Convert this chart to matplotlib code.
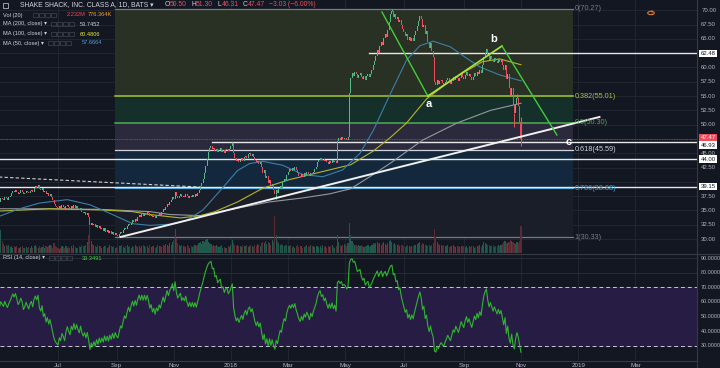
import numpy as np
import pandas as pd
import matplotlib
matplotlib.use('Agg')
import matplotlib.pyplot as plt
from matplotlib.patches import Rectangle, Circle

plt.rcParams['font.family'] = ['Liberation Sans', 'DejaVu Sans']

# ---------------- data (daily closes) ----------------
c_2017_05 = [35.8, 36.5, 37.2, 37.0, 36.8, 37.4, 37.1, 36.9, 37.3, 37.6, 38.0, 38.4, 38.2, 38.6, 38.3, 37.9, 38.1, 38.5, 38.3, 37.8, 38.0, 38.4, 38.2]
c_2017_06 = [38.0, 38.4, 38.6, 38.3, 38.9, 39.2, 39.0, 39.4, 38.7, 38.5, 38.9, 38.2, 38.4, 37.8, 38.1, 37.6, 37.9, 37.4, 36.8, 36.2, 35.8, 35.6]
c_2017_07 = [35.4, 35.8, 35.5, 35.9, 35.6, 35.2, 35.7, 36.0, 35.6, 35.3, 35.8, 35.5, 35.9, 35.4, 35.7, 35.3, 35.0, 35.4, 34.8, 34.5, 34.7]
c_2017_08 = [34.2, 34.5, 33.8, 32.5, 32.9, 32.4, 32.7, 32.1, 32.5, 31.9, 32.3, 31.7, 32.0, 31.5, 31.9, 31.3, 31.6, 31.0, 31.4, 30.9, 31.3, 30.7, 31.1]
c_2017_09 = [30.7, 30.5, 30.9, 31.3, 31.1, 31.6, 32.0, 31.8, 32.3, 32.7, 32.4, 32.9, 33.3, 33.0, 33.5, 33.2, 33.8, 34.2, 33.9, 34.4, 34.1]
c_2017_10 = [34.6, 34.3, 34.8, 34.5, 34.0, 34.3, 33.8, 34.1, 33.7, 34.2, 34.0, 34.5, 34.3, 34.8, 35.3, 35.0, 35.6, 36.2, 35.9, 36.5, 36.8, 37.4]
c_2017_11 = [37.0, 38.3, 37.6, 37.2, 37.5, 37.8, 37.3, 37.6, 37.4, 37.9, 37.5, 37.2, 37.6, 37.3, 37.7, 37.4, 37.8, 37.5, 38.0, 38.6, 39.2, 39.8]
c_2017_12 = [40.5, 41.6, 42.8, 44.0, 45.2, 45.9, 46.3, 45.8, 46.0, 45.4, 45.7, 45.2, 45.6, 45.9, 45.3, 45.5, 45.1, 45.6, 45.8, 45.4, 45.7]
c_2018_01 = [46.2, 46.8, 45.0, 44.2, 43.6, 43.9, 43.4, 43.8, 44.1, 43.7, 44.3, 44.6, 44.2, 44.8, 45.0, 44.6, 44.9, 44.4, 43.8, 43.4, 43.7, 43.2, 43.5]
c_2018_02 = [42.6, 41.6, 42.0, 40.6, 41.0, 39.8, 40.4, 39.2, 39.7, 38.6, 37.8, 38.6, 38.0, 38.7, 39.3, 39.0, 39.9, 40.5, 40.2, 41.2]
c_2018_03 = [41.8, 42.2, 41.9, 42.4, 42.1, 42.6, 42.0, 41.6, 41.1, 40.8, 41.3, 40.9, 41.5, 41.2, 41.7, 41.4, 41.0, 41.6, 41.3, 41.8, 42.2, 42.6]
c_2018_04 = [43.4, 43.9, 44.2, 43.8, 44.0, 43.6, 43.9, 43.5, 43.2, 43.6, 43.3, 43.8, 43.4, 43.7, 43.3, 47.2, 47.6, 47.4, 47.8, 47.5, 47.7]
c_2018_05 = [47.6, 47.4, 47.8, 55.5, 58.2, 59.0, 58.6, 59.3, 58.8, 58.2, 58.7, 59.1, 58.4, 58.0, 58.6, 57.9, 58.5, 58.9, 58.3, 58.8, 59.5, 60.4, 61.2]
c_2018_06 = [62.0, 63.1, 62.6, 63.8, 64.5, 64.0, 65.2, 65.8, 65.4, 66.5, 68.0, 69.4, 69.8, 68.9, 69.3, 68.5, 68.8, 67.9, 68.3, 67.4, 66.8]
c_2018_07 = [66.2, 65.5, 65.9, 64.8, 65.3, 64.6, 65.2, 64.7, 65.6, 66.4, 67.3, 68.2, 69.0, 68.4, 67.0, 67.5, 65.8, 66.3, 64.5, 63.4, 64.2, 62.8]
c_2018_08 = [61.9, 57.5, 57.0, 57.8, 57.1, 57.6, 57.9, 57.3, 56.9, 57.4, 57.8, 58.2, 57.6, 57.1, 57.7, 58.3, 57.9, 58.6, 58.1, 57.6, 58.2, 58.8, 58.4]
c_2018_09 = [58.0, 58.7, 59.2, 58.5, 58.9, 58.3, 57.8, 58.4, 59.0, 58.6, 59.3, 58.8, 59.5, 59.1, 60.4, 61.8, 62.6, 63.2, 62.1, 61.3]
c_2018_10 = [62.0, 61.5, 61.0, 61.6, 61.2, 60.8, 61.4, 60.9, 61.3, 60.5, 59.6, 60.4, 58.0, 58.9, 56.4, 55.2, 56.4, 53.4, 52.0, 53.6, 54.6, 53.2, 50.5]
c_2018_11 = [47.47]
last_ohlc = (50.50, 51.30, 46.31, 47.47)

# notable wick extremes: bar index -> price
wick_highs = {176: 47.0, 296: 70.27, 390: 55.3}
wick_lows = {91: 30.33, 209: 37.0, 388: 49.6}

# volume, in units of 100k shares
v_2017_05 = [30, 55, 38, 20, 15, 12, 14, 11, 13, 10, 12, 9, 11, 10, 12, 9, 8, 10, 11, 9, 8, 10, 9]
v_2017_06 = [10, 8, 12, 9, 11, 14, 10, 9, 12, 8, 10, 13, 9, 11, 10, 12, 14, 11, 9, 16, 12, 10]
v_2017_07 = [8, 6, 9, 11, 10, 8, 12, 9, 10, 8, 11, 9, 13, 10, 8, 9, 12, 10, 14, 11, 12]
v_2017_08 = [13, 18, 30, 45, 20, 15, 14, 12, 10, 13, 11, 12, 9, 10, 12, 11, 9, 10, 13, 11, 10, 12, 9]
v_2017_09 = [10, 9, 12, 11, 14, 10, 9, 12, 13, 10, 11, 9, 12, 10, 14, 11, 10, 12, 9, 11, 13]
v_2017_10 = [11, 10, 12, 9, 13, 10, 11, 12, 9, 10, 14, 12, 11, 10, 13, 12, 15, 14, 12, 16, 13, 18]
v_2017_11 = [22, 40, 25, 16, 14, 12, 13, 11, 12, 10, 13, 11, 9, 12, 10, 11, 13, 12, 14, 16, 18, 15]
v_2017_12 = [20, 18, 22, 24, 19, 17, 15, 12, 13, 11, 14, 12, 10, 11, 13, 9, 10, 8, 9, 11, 10]
v_2018_01 = [14, 22, 16, 13, 12, 14, 11, 12, 10, 13, 11, 12, 14, 10, 11, 13, 12, 10, 14, 12, 15, 13, 12]
v_2018_02 = [16, 18, 17, 20, 15, 18, 16, 14, 22, 18, 62, 30, 20, 16, 14, 15, 13, 12, 14, 13]
v_2018_03 = [12, 11, 13, 10, 12, 9, 11, 13, 10, 12, 11, 9, 10, 12, 14, 11, 10, 13, 12, 11, 10, 12]
v_2018_04 = [11, 10, 12, 9, 13, 10, 11, 9, 12, 10, 11, 13, 10, 9, 12, 30, 18, 14, 12, 13, 15]
v_2018_05 = [14, 12, 16, 50, 30, 20, 16, 14, 13, 12, 14, 11, 13, 12, 10, 12, 11, 13, 10, 12, 14, 16, 15]
v_2018_06 = [16, 18, 15, 17, 14, 16, 18, 15, 14, 17, 20, 22, 18, 15, 16, 14, 13, 15, 12, 14, 13]
v_2018_07 = [12, 10, 11, 13, 12, 10, 11, 12, 14, 13, 15, 16, 18, 14, 16, 15, 13, 14, 12, 13, 11, 14]
v_2018_08 = [16, 40, 26, 18, 15, 14, 13, 12, 14, 11, 12, 13, 10, 12, 11, 13, 12, 10, 11, 12, 10, 11, 12]
v_2018_09 = [11, 10, 12, 9, 11, 10, 12, 11, 9, 10, 12, 11, 13, 10, 14, 18, 16, 15, 14, 13]
v_2018_10 = [12, 11, 13, 10, 12, 11, 14, 12, 13, 15, 18, 20, 17, 16, 18, 22, 20, 18, 16, 15, 19, 17, 20]
v_2018_11 = [45]

# moving averages: (bar index, value)
ma50_pts = [(1, 34.0), (16, 35.3), (31, 36.3), (52, 36.9), (69, 36.0), (84, 34.5), (101, 32.7), (114, 32.4),
            (129, 32.6), (141, 33.2), (154, 35.1), (167, 38.5), (180, 42.0), (189, 43.2), (199, 43.6),
            (214, 42.9), (229, 41.3), (244, 40.9), (259, 42.1), (272, 45.0), (282, 49.0), (295, 55.5),
            (307, 61.3), (317, 63.8), (327, 64.6), (340, 63.6), (351, 61.8), (362, 60.1), (377, 58.7), (393, 57.67)]
ma100_pts = [(1, 34.9), (39, 35.3), (77, 35.1), (101, 34.8), (114, 34.3), (137, 33.7), (152, 34.1), (163, 34.8),
             (180, 36.5), (199, 38.9), (219, 40.4), (242, 41.7), (265, 43.0), (282, 45.4), (295, 47.8),
             (307, 50.3), (322, 54.5), (336, 57.0), (349, 59.0), (364, 61.0), (377, 61.5), (393, 60.48)]
ma200_pts = [(1, 35.3), (39, 35.3), (77, 35.2), (114, 34.8), (129, 34.3), (152, 34.1), (180, 35.4), (204, 36.5),
             (229, 37.2), (249, 37.9), (265, 38.8), (280, 41.0), (295, 43.3), (319, 47.3), (345, 50.3),
             (370, 52.5), (393, 53.75)]

fib_levels = [0, 0.382, 0.5, 0.618, 0.786, 1]
fib_prices = [70.27, 55.01, 50.30, 45.59, 38.88, 30.33]
fib_span = (88, 432)
hlines = {'62.48': (62.48, 279), '46.93': (46.93, 161), '44.00': (44.00, 0), '39.15': (39.15, 0)}
trend_white = [(92, 30.37), (452, 51.35)]
trend_dash = [(0, 40.86), (152, 39.1)]
wave_pts = {'start': (288.5, 69.7), 'a': (323, 55.01), 'b': (378.7, 63.76), 'end': (420, 48.2)}

month_names = ['Jul', 'Sep', 'Nov', '2018', 'Mar', 'May', 'Jul', 'Sep', 'Nov', '2019', 'Mar']
month_dates = ['2017-07-01', '2017-09-01', '2017-11-01', '2018-01-01', '2018-03-01', '2018-05-01',
               '2018-07-01', '2018-09-01', '2018-11-01', '2019-01-01', '2019-03-01']

# ---------------- assemble ----------------
closes = np.array(sum([c_2017_05, c_2017_06, c_2017_07, c_2017_08, c_2017_09, c_2017_10, c_2017_11, c_2017_12,
                       c_2018_01, c_2018_02, c_2018_03, c_2018_04, c_2018_05, c_2018_06, c_2018_07, c_2018_08,
                       c_2018_09, c_2018_10, c_2018_11], []))
vols = np.array(sum([v_2017_05, v_2017_06, v_2017_07, v_2017_08, v_2017_09, v_2017_10, v_2017_11, v_2017_12,
                     v_2018_01, v_2018_02, v_2018_03, v_2018_04, v_2018_05, v_2018_06, v_2018_07, v_2018_08,
                     v_2018_09, v_2018_10, v_2018_11], []), dtype=float)
n = len(closes)
idx = np.arange(n)
opens = np.r_[closes[0], closes[:-1]]
opens[-1] = last_ohlc[0]

alldays = pd.bdate_range('2017-05-01', '2019-04-30')
tick_pos = [int(np.searchsorted(alldays, pd.Timestamp(d))) for d in month_dates]

# RSI 14 (Wilder)
ag, al = 0.28, 0.26
rsi = [100 - 100 / (1 + ag / al)]
for d in np.diff(closes):
    ag = (ag * 13 + max(d, 0)) / 14
    al = (al * 13 + max(-d, 0)) / 14
    rsi.append(100 - 100 / (1 + ag / al))
rsi = np.array(rsi)

# ---------------- figure ----------------
W, H = 720, 368
BG = '#131722'
GRID = '#242832'
TXT = '#b2b5be'
UP, DN = '#53b987', '#eb4d5c'
fig = plt.figure(figsize=(7.2, 3.68), dpi=100)
fig.patch.set_facecolor(BG)

PLOT_R = 697
ax = fig.add_axes([0, 1 - 253 / H, PLOT_R / W, 253 / H])
rax = fig.add_axes([0, 1 - 360 / H, PLOT_R / W, (360 - 254) / H])
for a in (ax, rax):
    a.set_facecolor(BG)
    for s in a.spines.values():
        s.set_visible(False)
    a.tick_params(left=False, right=False, labelleft=False, bottom=False, labelbottom=False)

x0, x1 = 1.41, 525.3
ax.set_xlim(x0, x1)
ax.set_ylim(27.57, 71.80)
rax.set_xlim(x0, x1)
rax.set_ylim(20.2, 92.8)

# grid
for p in np.arange(27.5, 72.6, 2.5):
    ax.axhline(p, color=GRID, lw=0.6, zorder=0)
for t in tick_pos:
    ax.axvline(t, color=GRID, lw=0.6, zorder=0)
    rax.axvline(t, color=GRID, lw=0.6, zorder=0)
for r in [40, 50, 60, 80, 90]:
    rax.axhline(r, color='#2a2e39', lw=0.6, zorder=0)

# fib zones
zone_cols = ['#293024', '#15302a', '#2a2a3c', '#13283c', '#1a1e29']
line_cols = ['#787b86', '#a5c832', '#4caf50', '#d1d4dc', '#3fa0d8', '#787b86']
fa, fb = fib_span
for k in range(5):
    ax.add_patch(Rectangle((fa, fib_prices[k + 1]), fb - fa, fib_prices[k] - fib_prices[k + 1],
                           facecolor=zone_cols[k], edgecolor='none', zorder=0.5))
for k, (lv, pr) in enumerate(zip(fib_levels, fib_prices)):
    ax.plot([fa, fb], [pr, pr], color=line_cols[k], lw=1.1 if k in (1, 2) else 0.9, zorder=1)
    lvs = ('%g' % lv)
    ax.text(fb + 1.2, pr, f'{lvs}({pr:.2f})', color=line_cols[k], fontsize=5.2, va='center', ha='left', zorder=6)

# volume
vcols = np.where(closes >= opens, '#1f5a4c', '#5c2a35')
vol_scale = 0.105
ax.bar(idx, vols * vol_scale, bottom=27.57, width=0.8, color=vcols, linewidth=0, zorder=1)

# horizontal lines
for lab, (pr, start) in hlines.items():
    ax.plot([start, x1], [pr, pr], color='#e8e8e8', lw=1.0, zorder=2)
ax.plot([x0, x1], [closes[-1]] * 2, color=DN, lw=0.6, ls=(0, (1, 1)), zorder=2, alpha=0.8)
ax.plot([p[0] for p in trend_dash], [p[1] for p in trend_dash], color='#d0d0d0', lw=0.8, ls=(0, (3, 2)), zorder=2)

# moving averages
ax.plot(*zip(*ma200_pts), color='#9598a1', lw=0.8, zorder=2.5)
ax.plot(*zip(*ma100_pts), color='#b5b52a', lw=0.8, zorder=2.5)
ax.plot(*zip(*ma50_pts), color='#3d7fa8', lw=0.8, zorder=2.5)

# candles
up = closes >= opens
bcol = np.where(up, UP, DN)
lo = np.minimum(opens, closes)
hi = np.maximum(opens, closes)
hgt = np.maximum(hi - lo, 0.12)
for i, h in wick_highs.items():
    ax.vlines(i, hi[i], h, color=bcol[i], lw=0.7, zorder=3)
for i, l in wick_lows.items():
    ax.vlines(i, l, lo[i], color=bcol[i], lw=0.7, zorder=3)
ax.bar(idx, hgt, bottom=lo, width=0.75, color=bcol, linewidth=0, zorder=3)
ax.vlines(idx[-1], last_ohlc[2], last_ohlc[1], color=DN, lw=0.8, zorder=3)

# trend line & wave drawing
ax.plot(*zip(*trend_white), color='#f0f0f0', lw=1.4, zorder=4)
s, a_, b_, e = wave_pts['start'], wave_pts['a'], wave_pts['b'], wave_pts['end']
ax.plot([s[0], a_[0]], [s[1], a_[1]], color='#3fcf3a', lw=1.0, zorder=4)
ax.plot([a_[0], b_[0]], [a_[1], b_[1]], color='#a8e63a', lw=1.2, zorder=4)
ax.plot([b_[0], e[0]], [b_[1], e[1]], color='#3fcf3a', lw=1.0, zorder=4)
ax.text(a_[0] + 1, a_[1] - 1.4, 'a', color='white', fontsize=8, fontweight='bold', ha='center', va='center', zorder=6)
ax.text(b_[0] - 6, b_[1] + 1.2, 'b', color='white', fontsize=8, fontweight='bold', ha='center', va='center', zorder=6)
ax.text(428.5, 46.9, 'c', color='white', fontsize=8, fontweight='bold', ha='center', va='center', zorder=6)

# right price axis
ytr = ax.get_yaxis_transform()
for p in np.arange(30, 70.1, 2.5):
    if abs(p - 62.5) < 0.1 or abs(p - 40) < 0.1 or abs(p - 47.5) < 0.1:
        continue
    ax.text(1.006, p, f'{p:.2f}', transform=ytr, color=TXT, fontsize=4.3, va='center', ha='left', clip_on=False)
boxes = [('62.48', 62.48, 'white', '#131722'), ('47.47', 47.75, DN, 'white'), ('46.93', 46.45, 'white', '#131722'),
         ('44.00', 44.00, 'white', '#131722'), ('39.15', 39.15, 'white', '#131722')]
for lab, p, fc, tc in boxes:
    ax.text(1.005, p, lab, transform=ytr, color=tc, fontsize=4.3, va='center', ha='left', clip_on=False,
            bbox=dict(boxstyle='square,pad=0.2', fc=fc, ec='none'))
rtr = rax.get_yaxis_transform()
for r in range(30, 91, 10):
    rax.text(1.005, r, f'{r:.4f}', transform=rtr, color=TXT, fontsize=3.9, va='center', ha='left', clip_on=False)

# axis borders
fig.add_artist(plt.Line2D([PLOT_R / W] * 2, [0, 1], color='#363a45', lw=0.8))
fig.add_artist(plt.Line2D([0, 1], [1 - 253.5 / H] * 2, color='#363a45', lw=0.8))
fig.add_artist(plt.Line2D([0, PLOT_R / W], [1 - 360.5 / H] * 2, color='#363a45', lw=0.8))

# RSI pane
rax.axhspan(30, 70, color='#271d44', zorder=0.5)
rax.axhline(70, color='#c8c8d0', lw=0.7, ls=(0, (4, 3)), zorder=1)
rax.axhline(30, color='#c8c8d0', lw=0.7, ls=(0, (4, 3)), zorder=1)
rax.plot(idx, rsi, color='#2fb52f', lw=0.8, zorder=3)

# x labels
for t, nm in zip(tick_pos, month_names):
    xpx = (t - x0) / (x1 - x0) * PLOT_R
    fig.text(xpx / W, 1 - 367 / H, nm, color=TXT, fontsize=4.5, ha='center', va='baseline')

# header / legends
def T(x, y, s, c='#d1d4dc', fs=5.0, **kw):
    fig.text(x / W, 1 - y / H, s, color=c, fontsize=fs, va='center', ha='left', **kw)

fig.add_artist(Rectangle((3 / W, 1 - 8 / H), 5 / W, 5 / H, transform=fig.transFigure, fill=False, ec=TXT, lw=0.6))
T(20, 5, 'SHAKE SHACK, INC. CLASS A, 1D, BATS ▾', '#d1d4dc', 4.9)
x = 165
for lab, val in [('O', '50.50'), ('H', '51.30'), ('L', '46.31'), ('C', '47.47')]:
    T(x, 5, lab, '#d1d4dc', 4.9)
    T(x + 4.5, 5, val, DN, 4.9)
    x += 26
T(269, 5, '−3.03 (−6.00%)', DN, 4.9)

def icons(x, y):
    for k in range(4):
        fig.add_artist(Rectangle(((x + k * 6) / W, 1 - (y + 2.3) / H), 4.6 / W, 4.6 / H,
                                 transform=fig.transFigure, fill=False, ec='#434651', lw=0.5))

LF = 4.1
T(3, 15, 'Vol (20)', '#d1d4dc', LF)
icons(33, 15)
T(67, 15, '2.232M', DN, LF)
T(88, 15, '776.364K', '#f0a030', LF)
T(3, 24, 'MA (200, close) ▾', '#d1d4dc', LF)
icons(51, 24)
T(80, 24, '53.7452', '#d1d4dc', LF)
T(3, 34, 'MA (100, close) ▾', '#d1d4dc', LF)
icons(51, 34)
T(80, 34, '60.4806', '#e8e830', LF)
T(3, 43, 'MA (50, close) ▾', '#d1d4dc', LF)
icons(48, 43)
T(82, 43, '57.6664', '#4a9fd8', LF)
T(3, 258, 'RSI (14, close) ▾', '#d1d4dc', LF)
icons(49, 258)
T(82, 258, '33.3491', '#3fd33f', LF)

fig.add_artist(Circle((651 / W, 1 - 13 / H), 3.3 / W, transform=fig.transFigure, fill=False, ec='#e07830', lw=0.8))
fig.text(651 / W, 1 - 13 / H, '!', color='#e07830', fontsize=4.5, ha='center', va='center', fontweight='bold')

fig.savefig('out.png', dpi=100, facecolor=BG)
